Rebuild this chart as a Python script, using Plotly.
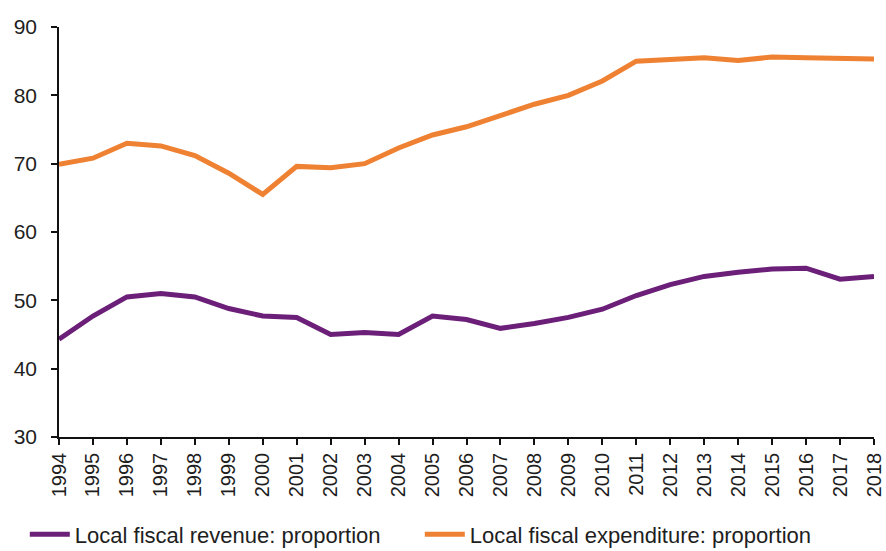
import plotly.graph_objects as go

years = [str(y) for y in range(1994, 2019)]

revenue_share = [44.3, 47.7, 50.5, 51.0, 50.5, 48.8, 47.7, 47.5, 45.0, 45.3, 45.0,
                 47.7, 47.2, 45.9, 46.6, 47.5, 48.7, 50.7, 52.3, 53.5, 54.1, 54.6,
                 54.7, 53.1, 53.5]
expenditure_share = [69.9, 70.8, 73.0, 72.6, 71.2, 68.6, 65.5, 69.6, 69.4, 70.0, 72.3,
                     74.2, 75.4, 77.1, 78.7, 80.0, 82.1, 85.0, 85.2, 85.5, 85.1, 85.6,
                     85.5, 85.4, 85.3]

series_names = ["Local fiscal revenue: proportion", "Local fiscal expenditure: proportion"]
series_colors = ["#6C1F78", "#EF8132"]
y_ticks = [30, 40, 50, 60, 70, 80, 90]

FONT = "Liberation Sans, Arial, sans-serif"
TEXT = "#1e1e1e"

fig = go.Figure()
for vals, name, color in zip([revenue_share, expenditure_share], series_names, series_colors):
    fig.add_trace(go.Scatter(
        x=years, y=vals, name=name, mode="lines",
        line=dict(color=color, width=5),
    ))

fig.update_layout(
    width=886, height=551,
    margin=dict(l=59, r=12, t=27, b=114, autoexpand=False),
    paper_bgcolor="white", plot_bgcolor="white",
    font=dict(family=FONT, size=20, color=TEXT),
    showlegend=True,
    legend=dict(
        orientation="h", xref="container", x=0.028, xanchor="left",
        yref="container", y=0.03, yanchor="middle",
        font=dict(family=FONT, size=22, color=TEXT),
        entrywidth=340, entrywidthmode="pixels",
        itemwidth=40, tracegroupgap=0, bgcolor="rgba(0,0,0,0)",
    ),
)

fig.update_xaxes(
    type="category", range=[0, len(years) - 1],
    tickangle=-90, showgrid=False, zeroline=False,
    showline=True, linecolor="#111", linewidth=1.5,
    ticks="outside", ticklen=6, tickcolor="#111", tickwidth=1.5,
    tickfont=dict(family=FONT, size=20, color=TEXT),
)
fig.update_yaxes(
    range=[30, 90], tickvals=y_ticks, showgrid=False, zeroline=False,
    showline=True, linecolor="#111", linewidth=1.5,
    ticks="outside", ticklen=6, tickcolor="#111", tickwidth=1.5,
    ticklabelstandoff=10,
    tickfont=dict(family=FONT, size=21, color=TEXT),
)

fig.write_html("out.html")
